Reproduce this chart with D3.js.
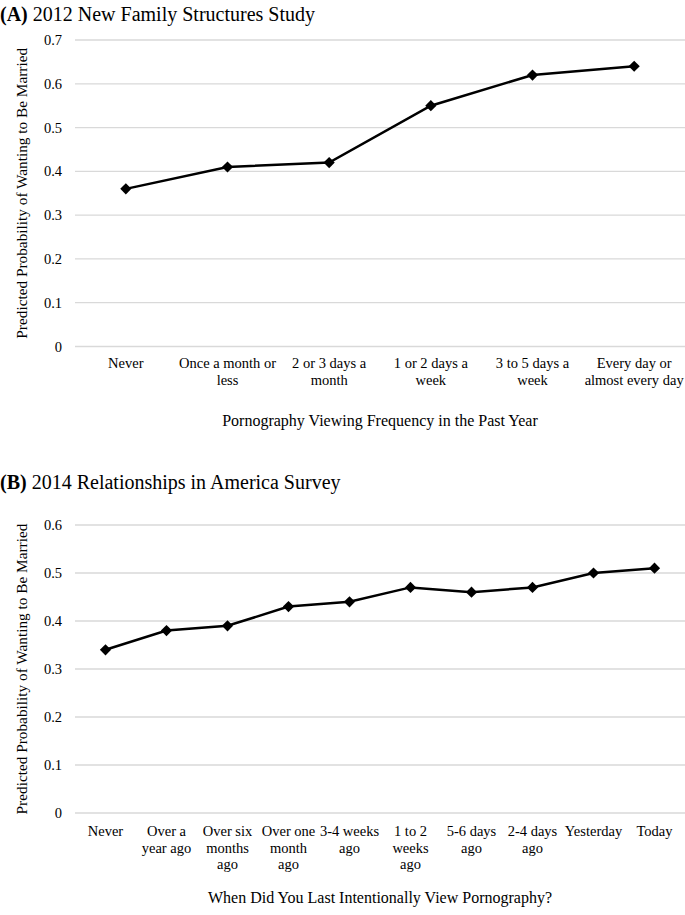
<!DOCTYPE html>
<html><head><meta charset="utf-8">
<script src="https://cdn.jsdelivr.net/npm/d3@7"></script>
<style>body{margin:0;background:#fff}svg{display:block;font-family:"Liberation Serif","Times New Roman",serif}</style>
</head><body><svg id="c" width="685" height="915"></svg>
<script>
const catsA = ["Never","Once a month or\nless","2 or 3 days a\nmonth","1 or 2 days a\nweek","3 to 5 days a\nweek","Every day or\nalmost every day"];
const valsA = [0.36,0.41,0.42,0.55,0.62,0.64];
const ticksA = [0,0.1,0.2,0.3,0.4,0.5,0.6,0.7];
const catsB = ["Never","Over a\nyear ago","Over six\nmonths\nago","Over one\nmonth\nago","3-4 weeks\nago","1 to 2\nweeks\nago","5-6 days\nago","2-4 days\nago","Yesterday","Today"];
const valsB = [0.34,0.38,0.39,0.43,0.44,0.47,0.46,0.47,0.50,0.51];
const ticksB = [0,0.1,0.2,0.3,0.4,0.5,0.6];
const yTitle = "Predicted Probability of Wanting to Be Married";

const svg = d3.select("#c");

function panel(o){
  const g = svg.append("g");
  const t = g.append("text").attr("x",0).attr("y",o.titleY).attr("font-size",20);
  t.append("tspan").attr("font-weight","bold").text(o.tag+" ");
  t.append("tspan").text(o.title);
  const x = d3.scaleBand().domain(o.cats).range([75,685]);
  const y = d3.scaleLinear().domain([0,d3.max(o.ticks)]).range([o.y0,o.y1]);
  g.append("g").selectAll("line").data(o.ticks).join("line")
    .attr("x1",75).attr("x2",685).attr("y1",d=>y(d)).attr("y2",d=>y(d))
    .attr("stroke","#d9d9d9").attr("stroke-width",1.3);
  g.append("g").selectAll("text").data(o.ticks).join("text")
    .attr("x",62).attr("y",d=>y(d)+5).attr("text-anchor","end").attr("font-size",14.5)
    .text(d=>d===0?"0":d3.format(".1f")(d));
  const xl = g.append("g").selectAll("text").data(o.cats).join("text")
    .attr("text-anchor","middle").attr("font-size",14.5);
  xl.each(function(d){
    const el=d3.select(this);
    d.split("\n").forEach((s,i)=>el.append("tspan").attr("x",x(d)+x.bandwidth()/2).attr("y",o.labY+i*16.5).text(s));
  });
  g.append("text").attr("x",380).attr("y",o.axY).attr("text-anchor","middle").attr("font-size",16).text(o.xTitle);
  const cy=(o.y0+o.y1)/2;
  g.append("text").attr("transform",`translate(27,${cy}) rotate(-90)`).attr("text-anchor","middle").attr("font-size",15.3).text(yTitle);
  const pts = o.cats.map((c,i)=>[x(c)+x.bandwidth()/2,y(o.vals[i])]);
  g.append("path").attr("d",d3.line()(pts)).attr("fill","none").attr("stroke","#000").attr("stroke-width",2.5);
  g.append("g").selectAll("path").data(pts).join("path")
    .attr("d",d3.symbol(d3.symbolDiamond2,80)).attr("transform",d=>`translate(${d[0]},${d[1]})`).attr("fill","#000");
}

panel({tag:"(A)",title:"2012 New Family Structures Study",titleY:21,cats:catsA,vals:valsA,ticks:ticksA,y0:346.5,y1:40,labY:368,axY:426,xTitle:"Pornography Viewing Frequency in the Past Year"});
panel({tag:"(B)",title:"2014 Relationships in America Survey",titleY:489,cats:catsB,vals:valsB,ticks:ticksB,y0:813,y1:525,labY:836,axY:903,xTitle:"When Did You Last Intentionally View Pornography?"});
</script></body></html>
